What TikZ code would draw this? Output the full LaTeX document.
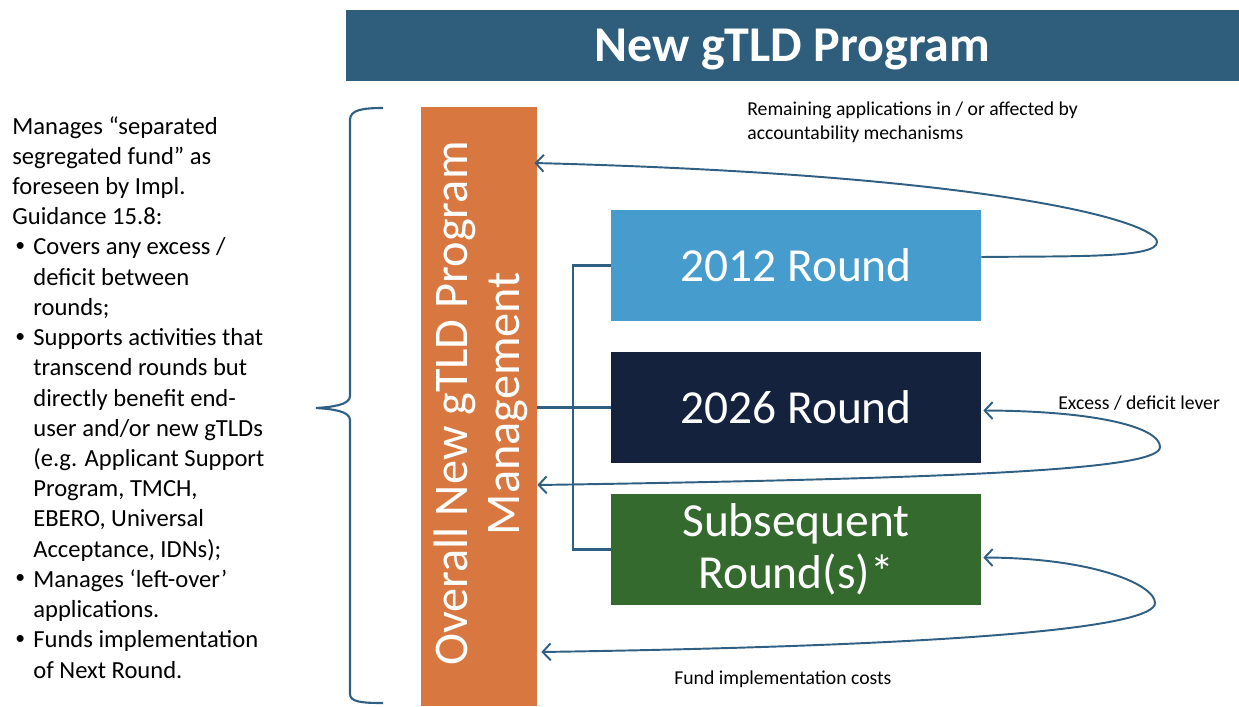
\documentclass[tikz,border=0pt]{standalone}
\usepackage{fontspec}
\setmainfont{Carlito}
\usetikzlibrary{arrows.meta,calc}

\definecolor{bannerblue}{RGB}{46,94,124}
\definecolor{mgmtorange}{RGB}{216,120,64}
\definecolor{roundlight}{RGB}{70,156,205}
\definecolor{rounddark}{RGB}{21,34,61}
\definecolor{roundgreen}{RGB}{52,106,46}
\definecolor{linkblue}{RGB}{47,95,130}

\newcommand{\bitem}{\makebox[0.42cm][l]{\hspace{0.06cm}\raisebox{0.3ex}{\scalebox{0.8}{\textbullet}}}}
\newcommand{\bcont}{\hspace*{0.42cm}}

\begin{document}
\begin{tikzpicture}[x=0.02cm, y=-0.02cm]
		% Define styles
		\tikzstyle{roundbox}=[rectangle, minimum width=7.4cm, minimum height=2.22cm, inner sep=0pt, text=white, align=center, font=\fontsize{27}{29.6}\selectfont]
		\tikzstyle{link} = [draw=linkblue, line width=1.2pt]
		\tikzstyle{flow} = [draw=linkblue, line width=1.1pt, arrows={-Straight Barb[length=1.6mm,width=3.4mm]}]
		\tikzstyle{note} = [inner sep=0pt, align=left, font=\fontsize{11.2}{13.7}\selectfont]
		
		\useasboundingbox (0,0) rectangle (1239,706);
		
		% Banner
		\node[fill=bannerblue, minimum width=17.86cm, minimum height=1.42cm, inner sep=0pt, text depth=0pt, text=white, font=\fontsize{28.5}{30}\selectfont\bfseries] (title) at (792.5,45.5) {New gTLD Program};
		
		% Side text and brace
		\node[inner sep=0pt, align=left, anchor=north west, font=\fontsize{14}{17.2}\selectfont] (fundtext) at (12,116) {%
			Manages “separated\\
			segregated fund” as\\
			foreseen by Impl.\\
			Guidance 15.8:\\
			\bitem Covers any excess /\\
			\bcont deficit between\\
			\bcont rounds;\\
			\bitem Supports activities that\\
			\bcont transcend rounds but\\
			\bcont directly benefit end-\\
			\bcont user and/or new gTLDs\\
			\bcont (e.g. Applicant Support\\
			\bcont Program, TMCH,\\
			\bcont EBERO, Universal\\
			\bcont Acceptance, IDNs);\\
			\bitem Manages ‘left-over’\\
			\bcont applications.\\
			\bitem Funds implementation\\
			\bcont of Next Round.};
		\draw[link] (383,108) .. controls (362,108) and (350,110) .. (350,120) -- (350,396)
			.. controls (350,405) and (332,407) .. (316,408)
			.. controls (332,409) and (350,411) .. (350,420) -- (350,694)
			.. controls (350,702) and (362,703) .. (383,703);
		
		% Program management bar
		\node[fill=mgmtorange, minimum width=2.32cm, minimum height=11.98cm, inner sep=0pt] (mgmt) at (479,406.5) {};
		\node[rotate=90, text=white, align=center, font=\fontsize{27.5}{30}\selectfont] (mgmtlbl) at ($(mgmt.center)+(2,-3)$) {Overall New gTLD Program\\Management};
		
		% Rounds
		\node[roundbox, fill=roundlight] (r12) at (796,265.5) {2012 Round};
		\node[roundbox, fill=rounddark] (r26) at (796,407.5) {2026 Round};
		\node[roundbox, fill=roundgreen] (rsub) at (796,549.5) {Subsequent\\Round(s)*};
		
		% Bracket to the rounds
		\coordinate (bus) at (573,0);
		\draw[link] (mgmt.east |- r26.west) -- (r26.west);
		\draw[link] (r12.west) -| (bus |- rsub.west) -- (rsub.west);
		
		% Return flows
		\draw[flow] ($(r12.east)+(0,-8.5)$) .. controls (1080,256) and (1157,258) .. (1157,242)
			.. controls (1157,222) and (1000,175) .. ($(mgmt.east |- 0,163)+(-3,0)$);
		\draw[flow, arrows={Straight Barb[length=1.6mm,width=3.4mm]-Straight Barb[length=1.6mm,width=3.4mm]}] ($(r26.east)+(2,3)$) .. controls (1100,411) and (1160,428) .. (1160,447)
			.. controls (1160,468) and (1000,478) .. (mgmt.east |- 0,485);
		\draw[flow, arrows={Straight Barb[length=1.6mm,width=3.4mm]-Straight Barb[length=1.6mm,width=3.4mm]}] ($(rsub.east)+(2,8)$) .. controls (1095,558) and (1155,585) .. (1155,603)
			.. controls (1155,625) and (1000,645) .. ($(mgmt.east |- 0,652)+(4,0)$);
		
		% Flow labels
		\node[note, anchor=north west] (remlbl) at (747,101) {Remaining applications in / or affected by\\accountability mechanisms};
		\node[note, anchor=west] (levlbl) at (1058,403) {Excess / deficit lever};
		\node[note, anchor=west] (costlbl) at (674,679) {Fund implementation costs};
		
	\end{tikzpicture}
\end{document}
